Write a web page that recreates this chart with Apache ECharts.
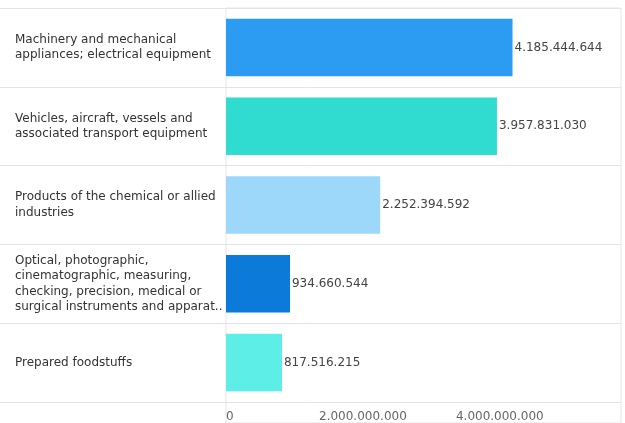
<!DOCTYPE html>
<html>
<head>
<meta charset="utf-8">
<script src="https://cdn.jsdelivr.net/npm/echarts@6/dist/echarts.min.js"></script>
<style>
html,body{margin:0;padding:0;background:#fff;}
#c{width:625px;height:423px;}
</style>
</head>
<body>
<div id="c"></div>
<script>
const categories = [
  "Machinery and mechanical\nappliances; electrical equipment",
  "Vehicles, aircraft, vessels and\nassociated transport equipment",
  "Products of the chemical or allied\nindustries",
  "Optical, photographic,\ncinematographic, measuring,\nchecking, precision, medical or\nsurgical instruments and apparat..",
  "Prepared foodstuffs"
];
const values = [4185444644, 3957831030, 2252394592, 934660544, 817516215];
const barColors = ["#2b9cf2", "#2fdccf", "#9dd8fb", "#0b7ad8", "#5deee8"];
const tickValues = [0, 2000000000, 4000000000];

function fmt(v) {
  return String(Math.round(v)).replace(/\B(?=(\d{3})+(?!\d))/g, ".");
}

const FONT = "DejaVu Sans";
const FS = 12;
const chart = echarts.init(document.getElementById('c'), null, {renderer: 'canvas'});
chart.setOption({
  animation: false,
  backgroundColor: '#fff',
  grid: [
    {left: 226, right: 4, top: 8, bottom: 21},
    {left: 0, right: 4, top: 8, bottom: 21},
    {left: 226, right: 4, top: 8, bottom: -1, show: true, borderColor: '#e6e6e6', borderWidth: 1, backgroundColor: 'transparent'}
  ],
  xAxis: [
    {
      gridIndex: 0, type: 'value', min: 0, max: 5770000000, interval: 2000000000,
      axisLine: {show: false}, axisTick: {show: false}, splitLine: {show: false},
      axisLabel: {
        show: true, showMaxLabel: false, alignMinLabel: 'left', margin: 9,
        color: '#666', fontFamily: FONT, fontSize: FS,
        formatter: function (v) { return tickValues.indexOf(v) >= 0 ? fmt(v) : ''; }
      }
    },
    {gridIndex: 1, type: 'value', show: false},
    {gridIndex: 2, type: 'value', show: false}
  ],
  yAxis: [
    {
      gridIndex: 0, type: 'category', data: categories, inverse: true,
      axisLine: {show: false}, axisTick: {show: false}, splitLine: {show: false},
      axisLabel: {
        align: 'left', margin: 211, color: '#333', fontFamily: FONT, fontSize: FS, lineHeight: 15.5,
        padding: [3, 0, 0, 0]
      }
    },
    {
      gridIndex: 1, type: 'category', data: categories, inverse: true,
      axisLine: {show: false}, axisTick: {show: false}, axisLabel: {show: false},
      splitLine: {show: true, lineStyle: {color: '#e3e3e3', width: 1}}
    },
    {gridIndex: 2, type: 'category', data: categories, show: false}
  ],
  series: [{
    type: 'bar',
    xAxisIndex: 0, yAxisIndex: 0,
    data: values.map((v, i) => ({value: v, itemStyle: {color: barColors[i]}})),
    barCategoryGap: '27%',
    label: {
      show: true, position: 'right', distance: 2,
      color: '#444', fontFamily: FONT, fontSize: FS,
      formatter: p => fmt(p.value)
    }
  }]
});
</script>
</body>
</html>
